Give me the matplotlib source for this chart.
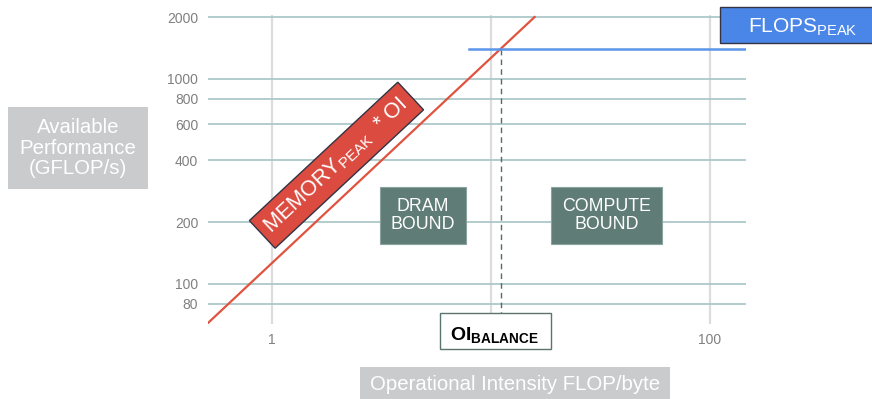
import numpy as np
import matplotlib
matplotlib.use('Agg')
import matplotlib.pyplot as plt
from matplotlib.patches import Rectangle

##Roofline data
mem_peak = 126          # GFLOP/s per FLOP/byte (slope of memory roof)
flops_peak = 1400       # GFLOP/s (compute roof)
oi_mem = [0.45, 2000 / mem_peak]     # x range of the memory roof
oi_compute = [8.0, 150]              # x range of the compute roof
oi_balance = flops_peak / mem_peak

y_ticks = [80, 100, 200, 400, 600, 800, 1000, 2000]
x_ticks = [1, 10, 100]
x_tick_labels = ['1', '', '100']

plt.rcParams['font.family'] = ['Liberation Sans', 'DejaVu Sans']
plt.rcParams['mathtext.fontset'] = 'custom'
plt.rcParams['mathtext.rm'] = 'Liberation Sans'

W, H = 872, 399
fig = plt.figure(figsize=(W / 100, H / 100), dpi=100)
ax = fig.add_axes([208/W, 1 - 323.7/H, (746-208)/W, (323.7-14.8)/H])
ax.set_xscale('log')
ax.set_yscale('log')
ax.set_xlim(0.512, 146.5)
ax.set_ylim(64, 2050)

#helper: box given in figure pixels (left, top, right, bottom)
def px_box(x0, y0, x1, y1, **kw):
    fig.patches.append(Rectangle((x0 / W, 1 - y1 / H), (x1 - x0) / W, (y1 - y0) / H,
                                 transform=fig.transFigure, **kw))

#Grid lines
for yv in y_ticks:
    ax.axhline(yv, color='#a6c4c6', lw=1.2, zorder=1)
for xv in x_ticks:
    ax.axvline(xv, color='#dcdcdc', lw=1.6, zorder=0)

for s in ax.spines.values():
    s.set_visible(False)
ax.set_yticks(y_ticks)
ax.set_yticklabels([str(v) for v in y_ticks])
ax.set_xticks(x_ticks)
ax.set_xticklabels(x_tick_labels)
ax.minorticks_off()
ax.tick_params(length=0, colors='#808080', labelsize=10, pad=7)

#Roofs
oi_mem = np.array(oi_mem)
ax.plot(oi_mem, mem_peak * oi_mem, color='#e0533f', lw=1.6, zorder=3)
ax.plot(oi_compute, [flops_peak, flops_peak], color='#5b95ea', lw=1.8, zorder=3)
ax.plot([oi_balance, oi_balance], [40, flops_peak], color='#4f6e68', lw=1,
        ls=(0, (4, 3)), zorder=2)

#Region labels
box_green = dict(boxstyle='square,pad=0.62', fc='#5f7c76', ec='#8aa39e', lw=0.8)
ax.text(4.9, 216, 'DRAM\nBOUND', color='white', fontsize=12.8, ha='center',
        va='center', linespacing=1.1, bbox=box_green, zorder=5)
ax.text(33.8, 216, 'COMPUTE\nBOUND', color='white', fontsize=12.8, ha='center',
        va='center', linespacing=1.1, bbox=box_green, zorder=5)

ax.text(1.976, 379, r'MEMORY$_{\mathregular{PEAK}}$  * OI', color='white',
        fontsize=15.6, ha='center', va='center', rotation=43,
        rotation_mode='anchor',
        bbox=dict(boxstyle='square,pad=0.35', fc='#db4b40', ec='#333344', lw=1),
        zorder=6)

#Labels outside the plot
px_box(720, 7, 880, 43, fc='#4a86e8', ec='#333344', lw=1)
fig.text(748/W, 1 - 32/H, r'FLOPS$_{\mathregular{PEAK}}$', color='white',
         fontsize=15, ha='left', va='baseline')

px_box(440, 313, 551, 349, fc='white', ec='#5a7570', lw=1)
fig.text(450/W, 1 - 340.7/H, r'OI$_{\mathregular{BALANCE}}$', color='black',
         fontsize=14, fontweight='bold', ha='left', va='baseline')

fig.text(78/W, 1 - 148/H, 'Available\nPerformance\n(GFLOP/s)', color='white',
         fontsize=14.7, ha='center', va='center', linespacing=1.1,
         bbox=dict(boxstyle='square,pad=0.55', fc='#c9cbcc', ec='none'))

px_box(360, 367, 670, 405, fc='#c9cbcc', ec='none')
fig.text(515/W, 1 - 390/H, 'Operational Intensity FLOP/byte', color='white',
         fontsize=14.7, ha='center', va='baseline')

plt.savefig('out.png', dpi=100)
